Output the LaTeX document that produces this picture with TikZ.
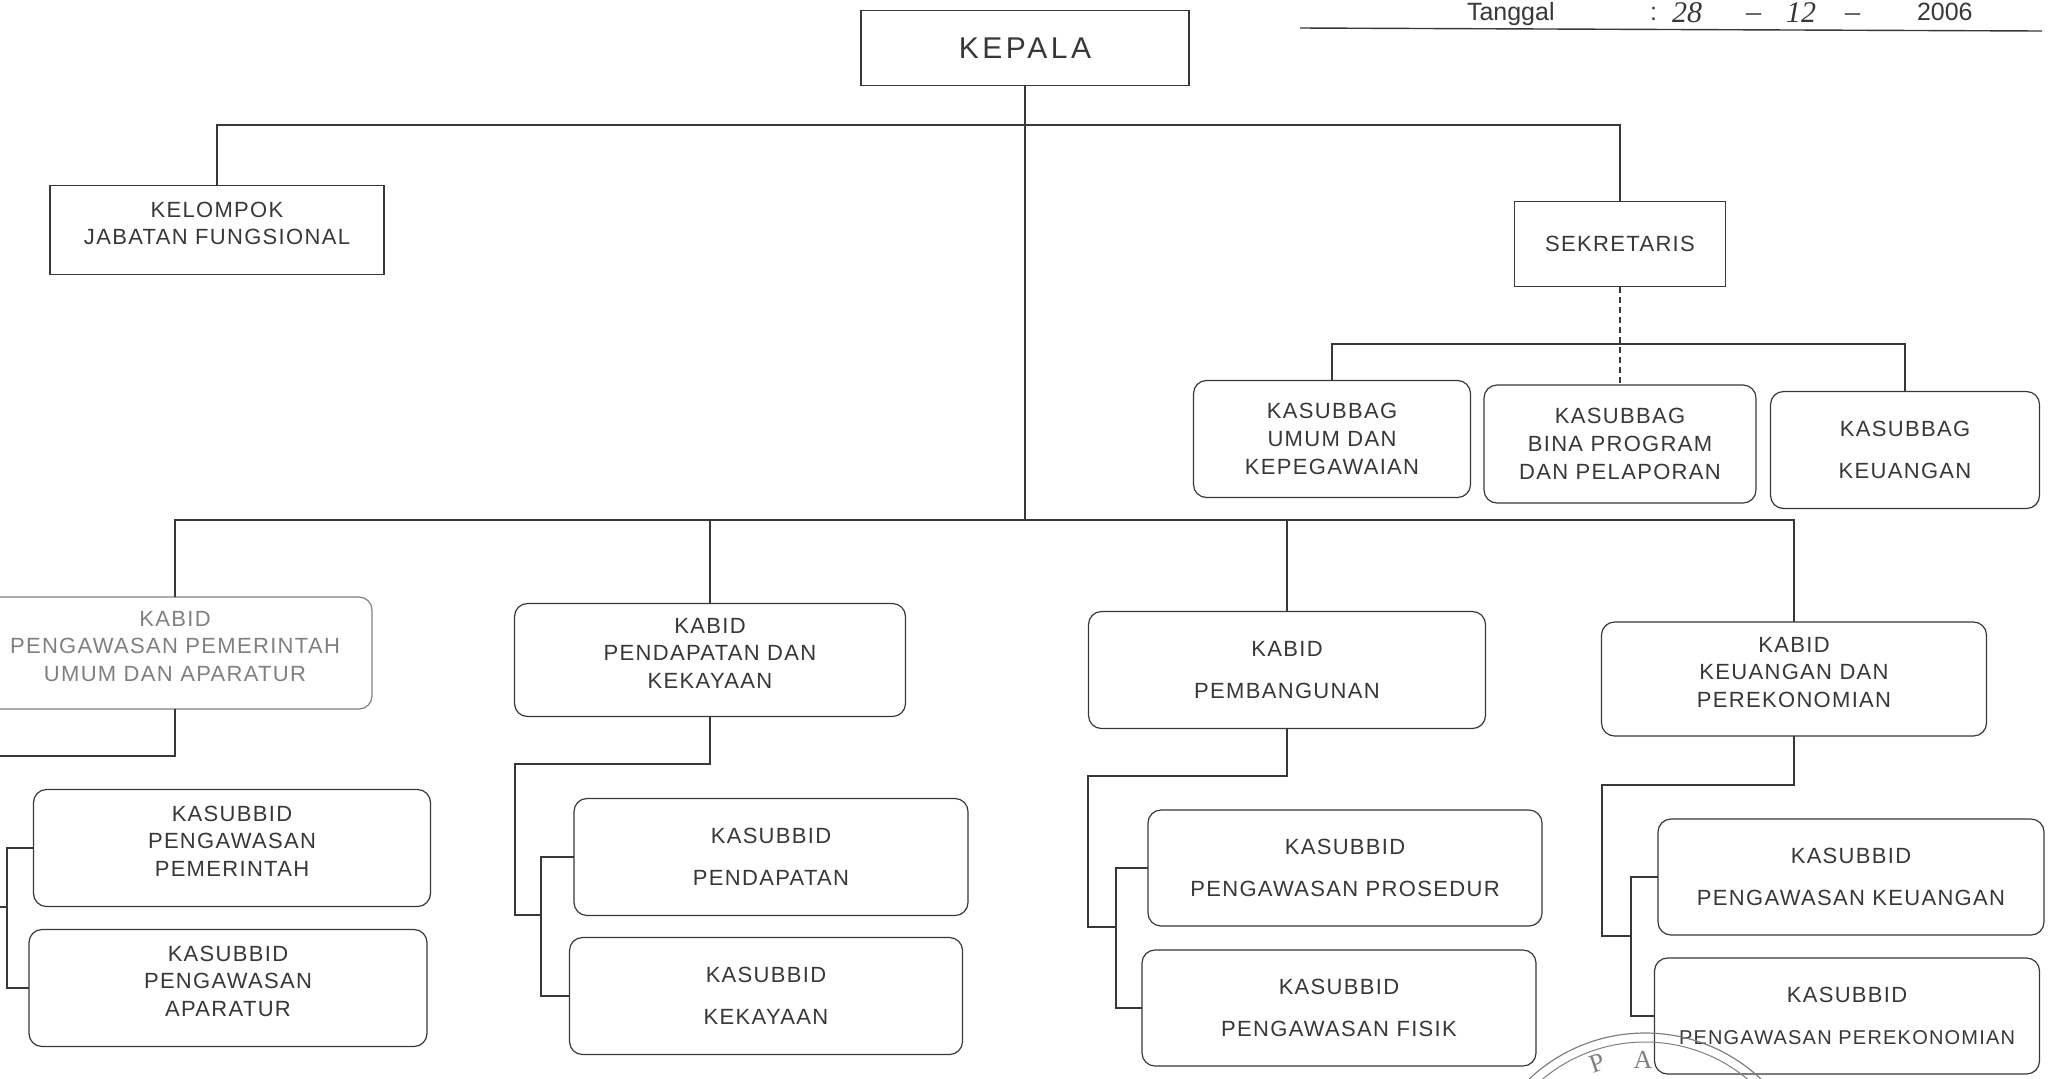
\documentclass[tikz,border=0pt]{standalone}
\usepackage{fontspec}
\setmainfont{Liberation Sans}
\newfontfamily\boxfont[LetterSpace=6]{Liberation Sans}
\newfontfamily\handfont{Liberation Serif}
\definecolor{ink}{gray}{0.22}
\definecolor{fade}{gray}{0.5}
\definecolor{stampgray}{gray}{0.5}
% pushes a three-line text a little up in its box
\newcommand{\textlift}{\\[-7pt]\mbox{}}
\begin{document}
\begin{tikzpicture}[x=0.5pt, y=-0.5pt, line join=miter,
    every node/.style={outer sep=0pt, inner sep=0pt, align=center, text=ink},
    boxtext/.style={font=\boxfont\fontsize{11}{13.8}\selectfont},
    plainbox/.style={draw=ink, line width=0.6pt, boxtext},
    roundbox/.style={plainbox, rounded corners=6.5pt},
    link/.style={draw=ink, line width=0.6pt},
    dotlink/.style={link, densely dashed},
    headtext/.style={anchor=base west, font=\fontsize{12.5}{15}\selectfont},
    handtext/.style={anchor=base west, font=\handfont\itshape\fontsize{15}{18}\selectfont},
    stamptext/.style={text=stampgray, font=\handfont\fontsize{13}{15}\selectfont}]
    \useasboundingbox (0,0) rectangle (2059,1078);
    \fill[white] (0,0) rectangle (2059,1078);
    \clip (0,0) rectangle (2059,1078);

    % header
    \node[headtext] (tanggal) at (1467,20) {Tanggal};
    \node[headtext] (colon) at (1650,20) {:};
    \node[handtext] (hari) at (1672,22) {28};
    \node[handtext] (dash1) at (1746,21) {\textendash};
    \node[handtext] (bulan) at (1786,22) {12};
    \node[handtext] (dash2) at (1845,21) {\textendash};
    \node[headtext] (tahun) at (1917,20) {2006};
    \draw[ink, line width=0.7pt] (1300,28) -- (2042,31);

    % top level
    \node[plainbox, minimum width=164pt, minimum height=37.5pt, font=\boxfont\fontsize{15}{18}\selectfont\addfontfeatures{LetterSpace=12}] (kepala) at (1025,48) {KEPALA};
    \node[plainbox, minimum width=167pt, minimum height=44.5pt] (kelompok) at (217,230) {KELOMPOK\\JABATAN FUNGSIONAL\textlift};
    \node[plainbox, minimum width=105.5pt, minimum height=42.5pt] (sekretaris) at (1620,244) {SEKRETARIS};

    % kasubbag
    \node[roundbox, minimum width=138.5pt, minimum height=58.5pt] (ksbumum) at (1332,439) {KASUBBAG\\UMUM DAN\\KEPEGAWAIAN};
    \node[roundbox, minimum width=136pt, minimum height=59pt] (ksbbina) at (1620,444) {KASUBBAG\\BINA PROGRAM\\DAN PELAPORAN};
    \node[roundbox, minimum width=134.5pt, minimum height=58.5pt] (ksbkeu) at (1905,450) {KASUBBAG\\[7pt]KEUANGAN};

    % kabid
    \node[roundbox, draw=fade, text=fade, minimum width=197pt, minimum height=56pt] (kbpem) at (175,653) {KABID\\PENGAWASAN PEMERINTAH\\UMUM DAN APARATUR\textlift};
    \node[roundbox, minimum width=195.5pt, minimum height=56.5pt] (kbpend) at (710,660) {KABID\\PENDAPATAN DAN\\KEKAYAAN\textlift};
    \node[roundbox, minimum width=198.5pt, minimum height=58.5pt] (kbbang) at (1287,670) {KABID\\[7pt]PEMBANGUNAN};
    \node[roundbox, minimum width=192.5pt, minimum height=57pt] (kbkeu) at (1794,679) {KABID\\KEUANGAN DAN\\PEREKONOMIAN\textlift};

    % kasubbid
    \node[roundbox, minimum width=198.5pt, minimum height=58.5pt] (sbpem) at (232,848) {KASUBBID\\PENGAWASAN\\PEMERINTAH\textlift};
    \node[roundbox, minimum width=199pt, minimum height=58.5pt] (sbapa) at (228,988) {KASUBBID\\PENGAWASAN\\APARATUR\textlift};
    \node[roundbox, minimum width=197pt, minimum height=58.5pt] (sbpend) at (771,857) {KASUBBID\\[7pt]PENDAPATAN};
    \node[roundbox, minimum width=196.5pt, minimum height=58.5pt] (sbkek) at (766,996) {KASUBBID\\[7pt]KEKAYAAN};
    \node[roundbox, minimum width=197pt, minimum height=58pt] (sbpros) at (1345,868) {KASUBBID\\[7pt]PENGAWASAN PROSEDUR};
    \node[roundbox, minimum width=197pt, minimum height=58pt] (sbfis) at (1339,1008) {KASUBBID\\[7pt]PENGAWASAN FISIK};
    \node[roundbox, minimum width=193pt, minimum height=58pt] (sbkeu) at (1851,877) {KASUBBID\\[7pt]PENGAWASAN KEUANGAN};
    \node[roundbox, minimum width=192.5pt, minimum height=58pt] (sbper) at (1847,1016) {KASUBBID\\[7pt]{\fontsize{10}{13.8}\selectfont PENGAWASAN PEREKONOMIAN}};

    % buses
    \coordinate (topbus) at (1025,125);
    \coordinate (botbus) at (1025,520);
    \coordinate (sekbus) at (1620,344);
    \draw[link] (kepala.south) -- (botbus);
    \draw[link] (kelompok.north) |- (topbus) -| (sekretaris.north);
    \draw[dotlink] (sekretaris.south) -- (ksbbina.north);
    \draw[link] (ksbumum.north) |- (sekbus) -| (ksbkeu.north);
    \draw[link] (kbpem.north) |- (botbus) -| (kbkeu.north);
    \draw[link] (kbpend.north) -- (kbpend.north |- botbus);
    \draw[link] (kbbang.north) -- (kbbang.north |- botbus);

    % kabid to kasubbid
    \coordinate (kink1) at (-20,756);
    \coordinate (spine1) at (7,907);
    \draw[link] (kbpem.south) |- (kink1) |- (spine1);
    \draw[link] (sbpem.west) -| (spine1) |- (sbapa.west);
    \coordinate (kink2) at (515,764);
    \coordinate (spine2) at (541,915);
    \draw[link] (kbpend.south) |- (kink2) |- (spine2);
    \draw[link] (sbpend.west) -| (spine2) |- (sbkek.west);
    \coordinate (kink3) at (1088,776);
    \coordinate (spine3) at (1116,927);
    \draw[link] (kbbang.south) |- (kink3) |- (spine3);
    \draw[link] (sbpros.west) -| (spine3) |- (sbfis.west);
    \coordinate (kink4) at (1602,785);
    \coordinate (spine4) at (1631,936);
    \draw[link] (kbkeu.south) |- (kink4) |- (spine4);
    \draw[link] (sbkeu.west) -| (spine4) |- (sbper.west);

    % stamp
    \coordinate (stampc) at (1645,1202);
    \draw[stampgray, line width=0.6pt] (stampc) circle[radius=84.5pt];
    \draw[stampgray, line width=0.5pt] (stampc) circle[radius=80pt];
    \node[stamptext, rotate=19] (stampp) at (1597,1063) {P};
    \node[stamptext] (stampa) at (1643,1060) {A};
\end{tikzpicture}
\end{document}
